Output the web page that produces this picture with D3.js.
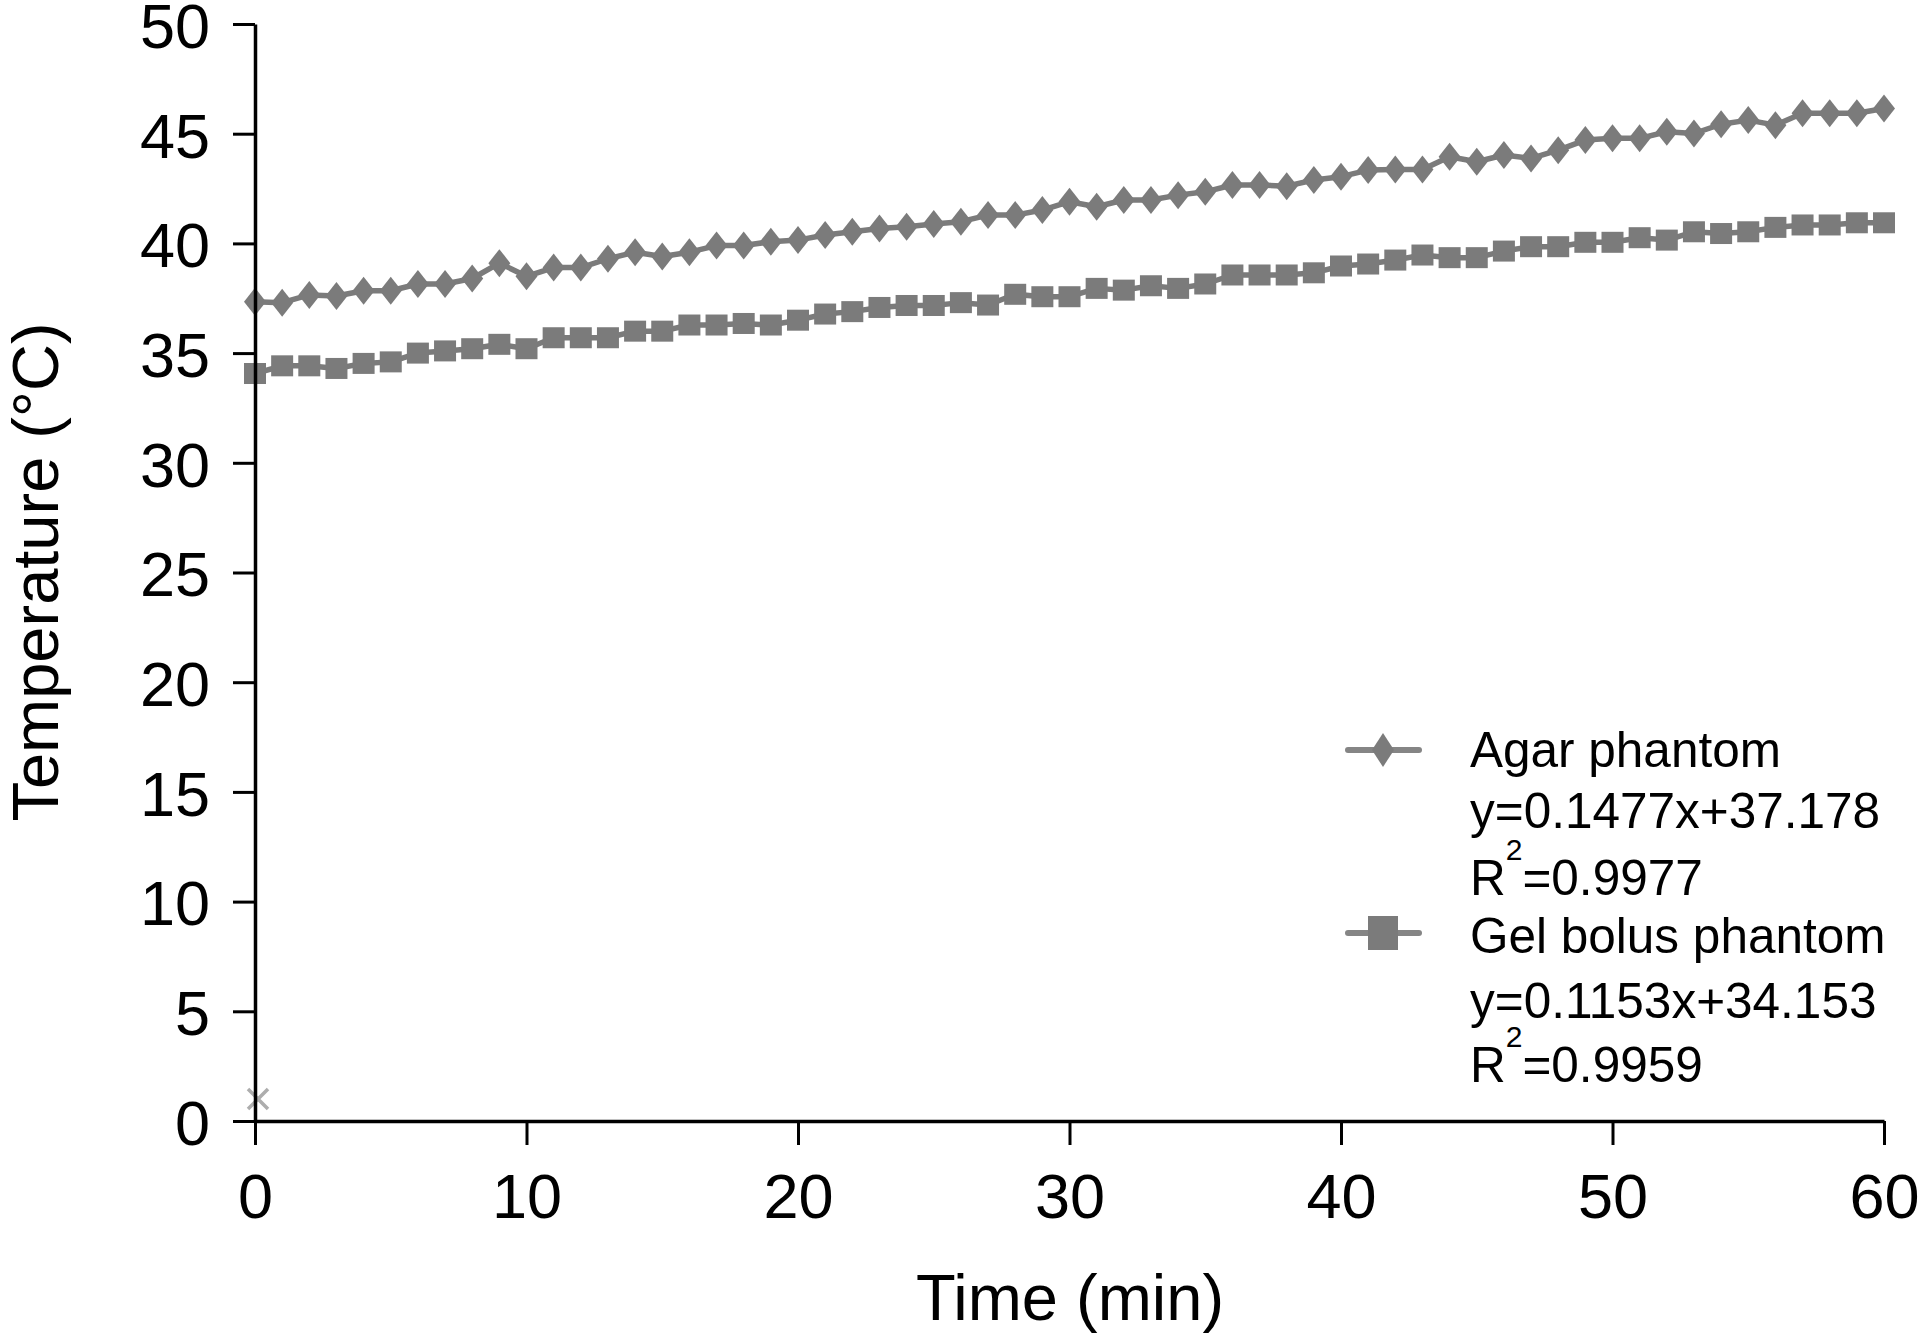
<!DOCTYPE html>
<html>
<head>
<meta charset="utf-8">
<script src="https://cdn.jsdelivr.net/npm/d3@7"></script>
<style>
  html, body { margin: 0; padding: 0; background: #fff; }
  svg { display: block; font-family: "Liberation Sans", Arial, Helvetica, sans-serif; }
</style>
</head>
<body>
<svg id="chart" width="1920" height="1336"></svg>
<script>
// ---- data ----
const minutes = d3.range(0, 61);
const agarTemp = [
  37.34, 37.30, 37.65, 37.60, 37.84, 37.84, 38.15, 38.15, 38.40, 39.10,
  38.50, 38.90, 38.90, 39.30, 39.60, 39.40, 39.60, 39.90, 39.90, 40.08,
  40.15, 40.38, 40.53, 40.68, 40.76, 40.88, 40.99, 41.29, 41.29, 41.52,
  41.90, 41.67, 41.98, 41.98, 42.20, 42.35, 42.66, 42.66, 42.61, 42.89,
  43.04, 43.34, 43.37, 43.37, 43.95, 43.72, 44.03, 43.87, 44.25, 44.71,
  44.79, 44.79, 45.09, 45.01, 45.43, 45.62, 45.39, 45.93, 45.93, 45.93,
  46.15
];
const gelTemp = [
  34.07, 34.42, 34.42, 34.30, 34.53, 34.60, 35.00, 35.10, 35.20, 35.40,
  35.20, 35.70, 35.70, 35.70, 36.00, 36.00, 36.28, 36.28, 36.35, 36.28,
  36.50, 36.78, 36.89, 37.08, 37.17, 37.17, 37.30, 37.19, 37.68, 37.57,
  37.57, 37.95, 37.87, 38.07, 37.95, 38.15, 38.56, 38.56, 38.56, 38.66,
  38.97, 39.06, 39.24, 39.47, 39.35, 39.35, 39.65, 39.85, 39.85, 40.05,
  40.05, 40.26, 40.15, 40.53, 40.45, 40.53, 40.73, 40.84, 40.84, 40.94,
  40.94
];
const strayPoint = [{ t: 0, v: 1 }];
const xTicks = [0, 10, 20, 30, 40, 50, 60];
const yTicks = [0, 5, 10, 15, 20, 25, 30, 35, 40, 45, 50];
const xTitle = "Time (min)";
const yTitle = "Temperature (°C)";
const agarLegend = ["Agar phantom", "y=0.1477x+37.178", "0.9977"];
const gelLegend = ["Gel bolus phantom", "y=0.1153x+34.153", "0.9959"];

// ---- layout ----
const svg = d3.select("#chart");
const gray = "#7b7b7b";
const x = d3.scaleLinear().domain([0, 60]).range([255, 1884]);
const y = d3.scaleLinear().domain([0, 50]).range([1121, 24]);

// series lines
const line = d3.line().x((d, i) => x(minutes[i])).y(d => y(d));
svg.append("path").datum(agarTemp).attr("d", line)
  .attr("fill", "none").attr("stroke", gray).attr("stroke-width", 5.5).attr("stroke-linejoin", "round");
svg.append("path").datum(gelTemp).attr("d", line)
  .attr("fill", "none").attr("stroke", gray).attr("stroke-width", 5.5).attr("stroke-linejoin", "round");

// markers
const diamond = (cx, cy, hw, hh) => `M${cx},${cy - hh}L${cx + hw},${cy}L${cx},${cy + hh}L${cx - hw},${cy}Z`;
svg.append("g").selectAll("path").data(agarTemp).join("path")
  .attr("d", (d, i) => diamond(x(minutes[i]), y(d), 11, 14))
  .attr("fill", gray);
svg.append("g").selectAll("rect").data(gelTemp).join("rect")
  .attr("x", (d, i) => x(minutes[i]) - 11).attr("y", d => y(d) - 10.5)
  .attr("width", 22).attr("height", 21).attr("fill", gray);

// stray x marker
svg.append("g").selectAll("path").data(strayPoint).join("path")
  .attr("d", d => {
    const cx = x(d.t) + 3, cy = y(d.v), s = 10;
    return `M${cx - s},${cy - s}L${cx + s},${cy + s}M${cx - s},${cy + s}L${cx + s},${cy - s}`;
  })
  .attr("stroke", "#999").attr("stroke-width", 3.5).attr("opacity", 0.8);

// axes
const yAxis = d3.axisLeft(y).tickValues(yTicks).tickSize(22).tickSizeOuter(0).tickPadding(23);
const gy = svg.append("g").attr("transform", `translate(${x(0)},0)`).call(yAxis);
gy.select(".domain").attr("stroke", "#000").attr("stroke-width", 3.5);
gy.selectAll(".tick line").attr("stroke", "#000").attr("stroke-width", 3);
gy.selectAll(".tick text").attr("font-size", 63).attr("fill", "#000")
  .attr("font-family", "'Liberation Sans', Arial, sans-serif").attr("dy", "0.37em");

const xAxis = d3.axisBottom(x).tickValues(xTicks).tickSize(24).tickSizeOuter(0).tickPadding(28);
const gx = svg.append("g").attr("transform", `translate(0,${y(0)})`).call(xAxis);
gx.select(".domain").attr("stroke", "#000").attr("stroke-width", 3.5);
gx.selectAll(".tick line").attr("stroke", "#000").attr("stroke-width", 3);
gx.selectAll(".tick text").attr("font-size", 63).attr("fill", "#000")
  .attr("font-family", "'Liberation Sans', Arial, sans-serif");

// axis titles
svg.append("text").attr("x", 1070).attr("y", 1320).attr("text-anchor", "middle")
  .attr("font-size", 65).attr("fill", "#000").text(xTitle);
svg.append("text").attr("transform", "translate(58,572) rotate(-90)").attr("text-anchor", "middle")
  .attr("font-size", 65).attr("fill", "#000").text(yTitle);

// legend
const lg = svg.append("g");
function legendEntry(labels, cy, baselines, markerFn) {
  lg.append("line").attr("x1", 1348).attr("x2", 1419).attr("y1", cy).attr("y2", cy)
    .attr("stroke", "#858585").attr("stroke-width", 6).attr("stroke-linecap", "round");
  markerFn(1383, cy);
  lg.append("text").attr("x", 1470).attr("y", baselines[0]).attr("font-size", 49.5).attr("fill", "#000").text(labels[0]);
  lg.append("text").attr("x", 1470).attr("y", baselines[1]).attr("font-size", 49.5).attr("fill", "#000").text(labels[1]);
  const t = lg.append("text").attr("x", 1470).attr("y", baselines[2]).attr("font-size", 49.5).attr("fill", "#000");
  t.append("tspan").text("R");
  t.append("tspan").attr("font-size", 30).attr("dy", -35).attr("dx", 0).text("2");
  t.append("tspan").attr("dy", 35).attr("dx", 0).text("=" + labels[2]);
}
legendEntry(agarLegend, 750, [767, 828, 895], (cx, cy) =>
  lg.append("path").attr("d", diamond(cx, cy, 11, 17)).attr("fill", gray));
legendEntry(gelLegend, 933, [953, 1018, 1082], (cx, cy) =>
  lg.append("rect").attr("x", cx - 15).attr("y", cy - 17).attr("width", 30).attr("height", 34).attr("fill", gray));
</script>
</body>
</html>
